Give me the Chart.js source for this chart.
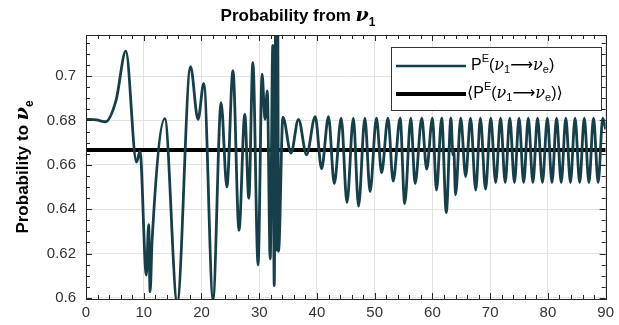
<!DOCTYPE html>
<html>
<head>
<meta charset="utf-8">
<script src="https://cdn.jsdelivr.net/npm/chart.js@4.4.1/dist/chart.umd.min.js"></script>
<style>
  html, body { margin: 0; padding: 0; background: #fff; }
  #wrap { width: 619px; height: 325px; }
</style>
</head>
<body>
<div id="wrap"><canvas id="c" width="619" height="325"></canvas></div>
<script>
// Electron-neutrino appearance probability starting from mass state nu_1
const distance = [
  0, 1.8, 3.4, 5.2, 6.9, 8.75, 9.35, 10.45, 10.85, 11.1, 11.45, 13.65, 15.8, 18.1, 19.4, 20.4,
  22.0, 23.4, 24.4, 25.45, 26.5, 27.5, 28.2, 28.9, 29.8, 30.5, 31.0, 31.4, 31.9, 32.35,
  32.6, 32.85, 33.05, 33.2, 33.35, 34.1, 35.5, 36.8, 38.2, 39.7, 40.8, 42.0, 43.0, 44.2,
  45.2, 46.3, 47.2, 48.3, 49.2, 50.3, 51.2, 52.3, 53.2, 54.4, 55.2, 56.25, 57.0, 58.15,
  59.0, 60.0, 60.7, 61.6, 62.4, 63.2, 63.55, 63.7, 64.0, 64.9, 65.75, 66.6, 67.5, 68.3,
  69.2, 70.1, 70.95, 71.8, 72.6, 73.4, 74.2, 75.0, 75.8, 76.6, 77.4, 78.2, 79.05, 79.9,
  80.7, 81.5, 82.3, 83.1, 83.9, 84.7, 85.5, 86.3, 87.1, 87.9, 88.7, 89.5, 90
];
const probE = [
  0.6805, 0.6802, 0.6794, 0.689, 0.7112, 0.6612, 0.6662, 0.6103, 0.633, 0.6027, 0.626, 0.6808, 0.598, 0.7042, 0.6805, 0.6967,
  0.5994, 0.688, 0.650, 0.7024, 0.6305, 0.6827, 0.6449, 0.7062, 0.6149, 0.7009, 0.6805, 0.6933, 0.6176, 0.7138,
  0.6055, 0.726, 0.6215, 0.726, 0.621, 0.6815, 0.6653, 0.6805, 0.6645, 0.6817, 0.6582, 0.6817, 0.6515, 0.681,
  0.643, 0.681, 0.6414, 0.681, 0.6479, 0.681, 0.6565, 0.681, 0.6526, 0.681, 0.6425, 0.681, 0.6515, 0.681,
  0.658, 0.681, 0.6486, 0.681, 0.6385, 0.681, 0.6645, 0.6665, 0.6464, 0.681, 0.6547, 0.681, 0.6486, 0.681,
  0.649, 0.681, 0.652, 0.681, 0.652, 0.681, 0.652, 0.681, 0.652, 0.681, 0.652, 0.681, 0.652, 0.681,
  0.652, 0.681, 0.652, 0.681, 0.652, 0.681, 0.652, 0.681, 0.652, 0.681, 0.652, 0.681, 0.676
];
const meanProb = 0.6667;
const xTicks = [0, 10, 20, 30, 40, 50, 60, 70, 80, 90];
const yTicks = [0.6, 0.62, 0.64, 0.66, 0.68, 0.7];
const xMinorStep = 2;
const yMinorStep = 0.005;

const FONT = '"Liberation Sans", Arial, Helvetica, sans-serif';
const LINE_COLOR = '#173f4a';
const AXIS_COLOR = '#262626';

// draws a sequence of text runs (for sub/superscripts), returns end x
function drawRuns(ctx, runs, x, y) {
  for (const r of runs) {
    ctx.font = r.font;
    ctx.fillText(r.text, x, y + (r.dy || 0));
    x += ctx.measureText(r.text).width + (r.gap || 0);
  }
  return x;
}
function runsWidth(ctx, runs) {
  let w = 0;
  for (const r of runs) { ctx.font = r.font; w += ctx.measureText(r.text).width + (r.gap || 0); }
  return w;
}

function probRuns(size, brackets) {
  const big = size + 'px ' + FONT;
  const nu = 'italic ' + size + 'px "DejaVu Serif", serif';
  const arrow = size + 'px "DejaVu Sans", sans-serif';
  const small = Math.round(size * 0.7) + 'px ' + FONT;
  const runs = [];
  if (brackets) runs.push({ text: '\u27E8', font: arrow });
  runs.push(
    { text: 'P', font: big },
    { text: 'E', font: small, dy: -7 },
    { text: '(', font: big },
    { text: '\u03BD', font: nu },
    { text: '1', font: small, dy: 4 },
    { text: '\u27F6', font: arrow },
    { text: '\u03BD', font: nu },
    { text: 'e', font: small, dy: 4 },
    { text: ')', font: big }
  );
  if (brackets) runs.push({ text: '\u27E9', font: arrow });
  return runs;
}

const decorations = {
  id: 'decorations',
  afterDatasetsDraw(chart) {
    const ctx = chart.ctx;
    const a = chart.chartArea;
    const xs = chart.scales.x, ys = chart.scales.y;
    ctx.save();
    // axes box
    ctx.strokeStyle = AXIS_COLOR;
    ctx.lineWidth = 1;
    ctx.strokeRect(Math.round(a.left) + 0.5, Math.round(a.top) + 0.5,
                   Math.round(a.right - a.left), Math.round(a.bottom - a.top));
    // inward ticks on all four sides
    ctx.beginPath();
    for (let v = xs.min; v <= xs.max + 1e-9; v += xMinorStep) {
      const px = Math.round(xs.getPixelForValue(v)) + 0.5;
      const len = xTicks.includes(Math.round(v)) ? 6 : 4;
      ctx.moveTo(px, a.bottom); ctx.lineTo(px, a.bottom - len);
      ctx.moveTo(px, a.top); ctx.lineTo(px, a.top + len);
    }
    for (let v = 0.6; v <= ys.max + 1e-9; v += yMinorStep) {
      const py = Math.round(ys.getPixelForValue(v)) + 0.5;
      const major = yTicks.some(t => Math.abs(t - v) < 1e-6);
      const len = major ? 6 : 4;
      ctx.moveTo(a.left, py); ctx.lineTo(a.left + len, py);
      ctx.moveTo(a.right, py); ctx.lineTo(a.right - len, py);
    }
    ctx.stroke();

    // legend
    const lw = 210, lh = 63;
    const lx = Math.round(a.right) - 5 - lw, ly = Math.round(a.top) + 12;
    ctx.fillStyle = '#fff';
    ctx.fillRect(lx, ly, lw, lh);
    ctx.strokeStyle = '#333';
    ctx.lineWidth = 1;
    ctx.strokeRect(lx + 0.5, ly + 0.5, lw, lh);
    const rows = [
      { y: ly + 19, color: LINE_COLOR, width: 2.4, runs: probRuns(16, false), tx: lx + 80 },
      { y: ly + 47, color: '#000', width: 4, runs: probRuns(16, true), tx: lx + 76 }
    ];
    for (const r of rows) {
      ctx.strokeStyle = r.color;
      ctx.lineWidth = r.width;
      ctx.beginPath();
      ctx.moveTo(lx + 5, r.y); ctx.lineTo(lx + 75, r.y);
      ctx.stroke();
      ctx.fillStyle = '#000';
      ctx.textBaseline = 'middle';
      drawRuns(ctx, r.runs, r.tx, r.y);
    }

    // title
    const titleRuns = [
      { text: 'Probability from ', font: 'bold 17px ' + FONT },
      { text: '\u03BD', font: 'italic bold 19px "DejaVu Serif", serif' },
      { text: '1', font: 'bold 12px ' + FONT, dy: 5 }
    ];
    ctx.textBaseline = 'alphabetic';
    const tw = runsWidth(ctx, titleRuns);
    drawRuns(ctx, titleRuns, 298 - tw / 2, 21);

    // y-axis title
    const ylRuns = [
      { text: 'Probability to ', font: 'bold 17px ' + FONT },
      { text: '\u03BD', font: 'italic bold 19px "DejaVu Serif", serif' },
      { text: 'e', font: 'bold 12px ' + FONT, dy: 5 }
    ];
    const yw = runsWidth(ctx, ylRuns);
    ctx.translate(28, (a.top + a.bottom) / 2);
    ctx.rotate(-Math.PI / 2);
    drawRuns(ctx, ylRuns, -yw / 2, 0);
    ctx.restore();
  }
};

const points = distance.map((d, i) => ({ x: d, y: probE[i] }));
const meanPoints = [{ x: xTicks[0], y: meanProb }, { x: xTicks[xTicks.length - 1], y: meanProb }];

new Chart(document.getElementById('c'), {
  type: 'line',
  data: {
    datasets: [
      {
        label: 'P^E(nu_1 -> nu_e)',
        data: points,
        borderColor: LINE_COLOR,
        borderWidth: 2.8,
        pointRadius: 0,
        cubicInterpolationMode: 'monotone',
        fill: false
      },
      {
        label: '<P^E(nu_1 -> nu_e)>',
        data: meanPoints,
        borderColor: '#000',
        borderWidth: 4,
        pointRadius: 0,
        fill: false
      }
    ]
  },
  options: {
    responsive: false,
    devicePixelRatio: 1,
    animation: false,
    layout: { padding: { top: 35, right: 11, left: 0, bottom: 0 } },
    plugins: { legend: { display: false }, title: { display: false }, tooltip: { enabled: false } },
    scales: {
      x: {
        type: 'linear',
        min: 0, max: 90,
        afterBuildTicks: s => { s.ticks = xTicks.map(v => ({ value: v })); },
        afterFit: s => { s.height = 26; },
        grid: { color: '#e3e3e3', drawTicks: false },
        border: { display: false },
        ticks: { font: { family: FONT, size: 15 }, color: '#333', padding: 5, maxRotation: 0, autoSkip: false }
      },
      y: {
        type: 'linear',
        min: 0.5995, max: 0.7185,
        afterBuildTicks: s => { s.ticks = yTicks.map(v => ({ value: v })); },
        afterFit: s => { s.width = 86; },
        grid: { color: '#e3e3e3', drawTicks: false },
        border: { display: false },
        ticks: { font: { family: FONT, size: 15 }, color: '#333', padding: 10, callback: v => String(v) }
      }
    }
  },
  plugins: [decorations]
});
</script>
</body>
</html>
